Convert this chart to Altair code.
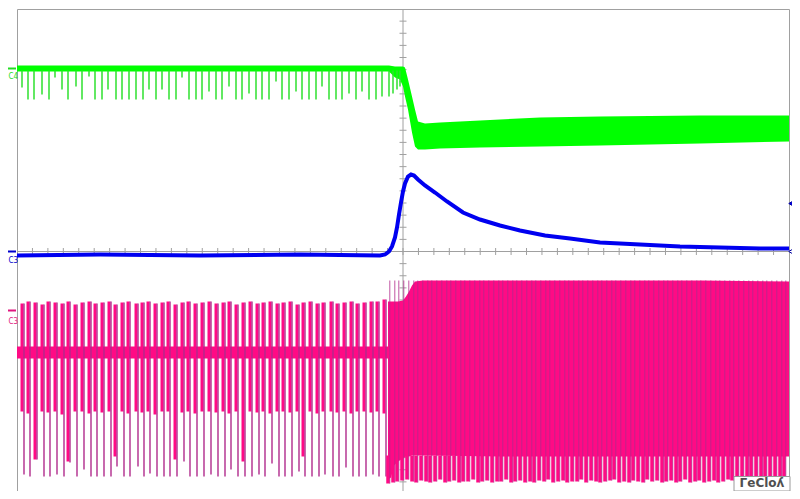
import altair as alt
import pandas as pd

# ---------------- data (screen units: trigger at t=0, 77.2 per time div; 60.6 per volt div) -------
X_DOMAIN = [-386, 386]
Y_DOMAIN = [-239.5, 242.5]

# Blue trace (C3)
blue_t = [-386, -303, -203, -103, -23, -18, -14, -11, -8, -6, -4, -2, 0, 2, 5, 8, 11, 15, 22, 32,
          44, 60, 77, 97, 117, 142, 167, 197, 237, 277, 317, 357, 386]
blue_v = [-4, -3, -4, -3, -4, -3, 0, 5, 14, 24, 37, 49, 60, 68, 75, 77, 76, 72, 66, 59,
          50, 39, 32, 26, 21, 16, 13, 9, 7, 5, 4, 3, 3]

# Green trace (C4) envelope
green_t = [-386, -14, -8, -3, 0, 2, 5, 9, 12, 15, 22, 37, 77, 137, 197, 297, 386]
green_hi = [186, 186, 185, 185, 185, 184, 172, 155, 142, 130, 128, 129, 131, 134, 135, 136, 136]
green_lo = [180, 180, 174, 172, 165, 155, 142, 119, 105, 102, 102, 103, 104, 105, 106, 108, 110]

# Green spikes before the trigger
green_spike_t = [-381, -375, -369, -361, -354, -348, -341, -335, -327, -321,
                 -314, -308, -301, -295, -287, -281, -274, -267, -260, -254,
                 -247, -241, -234, -227, -221, -214, -207, -201, -194, -187,
                 -181, -174, -167, -161, -154, -147, -141, -134, -127, -121,
                 -114, -107, -101, -94, -87, -81, -74, -67, -61, -54,
                 -47, -41, -34, -27, -21, -14, -10, -6, -3]
green_spike_low = [164, 152, 152, 157, 152, 174, 162, 152, 165, 152,
                   175, 152, 152, 162, 152, 152, 152, 152, 152, 162,
                   152, 162, 152, 152, 174, 152, 152, 152, 160, 152,
                   152, 165, 152, 152, 158, 152, 152, 152, 170, 152,
                   152, 160, 152, 152, 152, 165, 152, 152, 152, 158,
                   152, 160, 152, 152, 155, 155, 158, 162, 165]

# Pink trace (C3) before trigger: baseline band and switching spikes
pink_base_t = [-386]
pink_base_t2 = [-15]
pink_base_hi = [-95]
pink_base_lo = [-107]
pink_spike_t = [-381, -375, -368, -361, -355, -348, -341, -335, -328, -321,
                -314, -308, -301, -294, -288, -281, -275, -267, -261, -255,
                -248, -241, -235, -228, -221, -215, -208, -201, -194, -187,
                -180, -174, -167, -160, -153, -146, -140, -133, -126, -120,
                -113, -106, -100, -93, -86, -80, -72, -66, -59, -52,
                -46, -39, -32, -26, -19]
pink_spike_top = [-52, -50, -51, -53, -50, -51, -52, -50, -53, -51,
                  -50, -52, -51, -50, -53, -51, -50, -52, -51, -50,
                  -52, -51, -50, -53, -51, -50, -52, -51, -50, -52,
                  -51, -50, -53, -51, -50, -52, -51, -50, -52, -51,
                  -50, -53, -51, -50, -52, -51, -50, -52, -51, -50,
                  -52, -51, -50, -50, -48]
pink_spike_mid = [-160, -162, -208, -160, -161, -160, -163, -210, -160, -160,
                  -162, -160, -161, -160, -205, -160, -162, -160, -161, -160,
                  -163, -160, -160, -208, -161, -160, -162, -160, -160, -161,
                  -160, -162, -160, -210, -160, -161, -160, -162, -160, -160,
                  -161, -160, -205, -160, -162, -160, -160, -161, -160, -162,
                  -160, -160, -161, -160, -162]
pink_spike_bot = [-223, -225, -208, -225, -225, -223, -225, -211, -225, -218,
                  -225, -225, -225, -225, -215, -225, -225, -215, -225, -222,
                  -225, -225, -225, -225, -210, -225, -225, -225, -223, -225,
                  -225, -218, -225, -225, -225, -223, -225, -212, -225, -225,
                  -225, -220, -225, -225, -225, -223, -225, -225, -216, -225,
                  -225, -225, -223, -225, -225]

# Pink trace after trigger: dense envelope and lower teeth
pink_t = [-15, -12, -9, -5, 0, 3, 6, 9, 12, 20, 100, 200, 300, 386]
pink_hi = [-50, -50, -50, -50, -49, -45, -40, -34, -30, -29, -29, -29, -29, -30]
pink_lo = [-228, -226, -214, -210, -207, -205, -205, -204, -204, -204, -205, -205, -205, -205]
pink_tooth_t = [-15, -10, -6, -1, 4, 9, 13, 18, 23, 27,
                32, 37, 42, 46, 51, 56, 60, 65, 70, 75,
                79, 84, 89, 94, 98, 103, 108, 112, 117, 122,
                127, 131, 136, 141, 145, 150, 155, 160, 164, 169,
                174, 178, 183, 188, 193, 197, 202, 207, 211, 216,
                221, 226, 230, 235, 240, 244, 249, 254, 259, 263,
                268, 273, 277, 282, 287, 292, 296, 301, 306, 311,
                315, 320, 325, 329, 334, 339, 344, 348, 353, 358,
                362, 367, 372, 377, 381]
pink_tooth_bot = [-232, -231, -230, -229, -228, -230, -231, -229, -230, -231,
                  -230, -228, -231, -230, -229, -231, -230, -230, -228, -231,
                  -230, -229, -231, -230, -230, -228, -231, -230, -229, -231,
                  -230, -231, -229, -230, -228, -231, -230, -229, -231, -230,
                  -230, -228, -231, -229, -230, -231, -230, -229, -228, -231,
                  -230, -231, -229, -230, -231, -228, -230, -229, -231, -230,
                  -229, -231, -230, -228, -231, -230, -229, -231, -230, -229,
                  -231, -230, -228, -229, -231, -230, -229, -231, -230, -228,
                  -230, -231, -229, -230, -231]
PINK_TOOTH_JOIN = -204
PINK_TOP_LEVEL = -29

# Channel markers and labels on the left
ch_label = ["C4", "C3", "C3"]
ch_level = [183, 0, -59]
ch_label_y = [175, -9, -70]
ch_color = ["#22dd22", "#0000cc", "#e0157f"]

# Graticule
X_DIV = 77.2
Y_DIV = 60.625
grid_x = [k * X_DIV for k in range(-4, 5) if k != 0]
grid_y = [k * Y_DIV for k in range(-3, 4) if k != 0]
minor_x = [k * X_DIV / 5 for k in range(-24, 25)]
minor_y = [k * Y_DIV / 5 for k in range(-19, 20)]

# ---------------- chart ----------------
xs = alt.Scale(domain=X_DOMAIN, nice=False, zero=False)
ys = alt.Scale(domain=Y_DOMAIN, nice=False, zero=False)


def X(f):
    return alt.X(f + ":Q", scale=xs, axis=None)


def Y(f):
    return alt.Y(f + ":Q", scale=ys, axis=None)


grid = alt.Chart(pd.DataFrame({"x": [0], "y": [0]})).mark_point(opacity=0).encode(
    x=alt.X("x:Q", scale=xs, axis=alt.Axis(values=grid_x, grid=True, labels=False, ticks=False,
                                          domain=False, title=None, gridDash=[1, 2],
                                          gridColor="#808080", gridWidth=1)),
    y=alt.Y("y:Q", scale=ys, axis=alt.Axis(values=grid_y, grid=True, labels=False, ticks=False,
                                          domain=False, title=None, gridDash=[1, 2],
                                          gridColor="#808080", gridWidth=1)),
)

center_df = pd.DataFrame({"x": [0], "y": [0], "xa": [X_DOMAIN[0]], "xb": [X_DOMAIN[1]],
                          "ya": [Y_DOMAIN[0]], "yb": [Y_DOMAIN[1]]})
center_v = alt.Chart(center_df).mark_rule(color="#a0a0a0", strokeWidth=1).encode(
    x=X("x"), y=Y("ya"), y2=alt.Y2("yb"))
center_h = alt.Chart(center_df).mark_rule(color="#a0a0a0", strokeWidth=1).encode(
    y=Y("y"), x=X("xa"), x2=alt.X2("xb"))
tx_df = pd.DataFrame({"x": minor_x, "a": 3.5, "b": -3.5})
ty_df = pd.DataFrame({"y": minor_y, "a": 3.5, "b": -3.5})
ticks_x = alt.Chart(tx_df).mark_rule(color="#a0a0a0", strokeWidth=1).encode(
    x=X("x"), y=Y("a"), y2=alt.Y2("b"))
ticks_y = alt.Chart(ty_df).mark_rule(color="#a0a0a0", strokeWidth=1).encode(
    y=Y("y"), x=X("a"), x2=alt.X2("b"))

# green
green_df = pd.DataFrame({"t": green_t, "hi": green_hi, "lo": green_lo})
green_area = alt.Chart(green_df).mark_area(color="#00ff00", opacity=1).encode(
    x=X("t"), y=Y("hi"), y2=alt.Y2("lo"))
gs_df = pd.DataFrame({"t": green_spike_t, "low": green_spike_low, "top": [181] * len(green_spike_t)})
green_spikes = alt.Chart(gs_df).mark_rule(color="#2ee02e", strokeWidth=1.5).encode(
    x=X("t"), y=Y("top"), y2=alt.Y2("low"))

# blue
blue_df = pd.DataFrame({"t": blue_t, "v": blue_v})
blue_line = alt.Chart(blue_df).mark_line(color="#0000f0", strokeWidth=4).encode(
    x=X("t"), y=Y("v"), order="t:Q")

# pink before trigger
pb_df = pd.DataFrame({"t": pink_base_t, "t2": pink_base_t2, "hi": pink_base_hi, "lo": pink_base_lo})
pink_base = alt.Chart(pb_df).mark_rect(color="#ff0a85").encode(
    x=X("t"), x2=alt.X2("t2"), y=Y("hi"), y2=alt.Y2("lo"))
ps_df = pd.DataFrame({"t": pink_spike_t, "top": pink_spike_top, "mid": pink_spike_mid,
                      "bot": pink_spike_bot})
pink_spk_a = alt.Chart(ps_df).mark_rule(color="#ff0a85", strokeWidth=3).encode(
    x=X("t"), y=Y("top"), y2=alt.Y2("mid"))
pink_spk_b = alt.Chart(ps_df).mark_rule(color="#b02a8c", strokeWidth=1.4, xOffset=2).encode(
    x=X("t"), y=Y("top"), y2=alt.Y2("bot"))

# pink after trigger
pa_df = pd.DataFrame({"t": pink_t, "hi": pink_hi, "lo": pink_lo})
pink_area = alt.Chart(pa_df).mark_area(color="#ff0a85", opacity=1).encode(
    x=X("t"), y=Y("hi"), y2=alt.Y2("lo"))
pt_df = pd.DataFrame({"t": pink_tooth_t, "bot": pink_tooth_bot,
                      "join": [PINK_TOOTH_JOIN] * len(pink_tooth_t),
                      "top": [PINK_TOP_LEVEL] * len(pink_tooth_t)})
pink_teeth = alt.Chart(pt_df).mark_rule(color="#ff0a85", strokeWidth=3.5).encode(
    x=X("t"), y=Y("join"), y2=alt.Y2("bot"))
pink_teeth_edge = alt.Chart(pt_df).mark_rule(color="#b02a8c", strokeWidth=1, opacity=0.8,
                                             xOffset=1.8).encode(
    x=X("t"), y=Y("top"), y2=alt.Y2("bot"))

# channel markers (left of the grid)
ch_df = pd.DataFrame({"label": ch_label, "level": ch_level, "ly": ch_label_y, "color": ch_color,
                      "xa": [-395] * 3, "xb": [-387] * 3, "lx": [-394.5] * 3})
ch_marks = alt.Chart(ch_df).mark_rule(strokeWidth=2).encode(
    x=X("xa"), x2=alt.X2("xb"), y=Y("level"), color=alt.Color("color:N", scale=None))
ch_text = alt.Chart(ch_df).mark_text(fontSize=8, font="DejaVu Sans Condensed", align="left",
                                     baseline="middle").encode(
    x=X("lx"), y=Y("ly"), text="label:N", color=alt.Color("color:N", scale=None))

# right-side and trigger markers
mk_df = pd.DataFrame({"x": [388.5, 388.5, 0], "y": [48, 0, 246.5],
                      "shape": ["triangle-left", "triangle-left", "triangle-down"],
                      "filled": ["#0000e0", "white", "#0000e0"]})
markers = alt.Chart(mk_df).mark_point(size=40, strokeWidth=1, opacity=1, filled=True,
                                      stroke="#0000a0").encode(
    x=X("x"), y=Y("y"), shape=alt.Shape("shape:N", scale=None),
    fill=alt.Fill("filled:N", scale=None))

# logo box
logo_df = pd.DataFrame({"x": [331], "x2": [387], "y": [-225], "y2": [-239.5],
                        "tx": [359], "ty": [-231.5], "txt": ["ΓeCloʎ"]})
logo_box = alt.Chart(logo_df).mark_rect(fill="white", stroke="#9a9a9a", strokeWidth=1).encode(
    x=X("x"), x2=alt.X2("x2"), y=Y("y"), y2=alt.Y2("y2"))
logo_txt = alt.Chart(logo_df).mark_text(fontSize=12, font="DejaVu Sans", fontWeight="bold",
                                        color="#505050", baseline="middle").encode(
    x=X("tx"), y=Y("ty"), text="txt:N")

chart = alt.layer(
    grid, center_v, center_h, ticks_x, ticks_y,
    green_area, green_spikes, blue_line,
    pink_base, pink_spk_a, pink_spk_b, pink_teeth, pink_area, pink_teeth_edge,
    ch_marks, ch_text, markers, logo_box, logo_txt,
).properties(
    width=772, height=482, autosize="none",
    padding={"left": 9, "top": 1, "right": 3, "bottom": 0},
    background="white",
).configure_view(stroke="#a0a0a0", strokeWidth=1)

chart.save("out.html", embed_options={"renderer": "svg", "actions": False})
